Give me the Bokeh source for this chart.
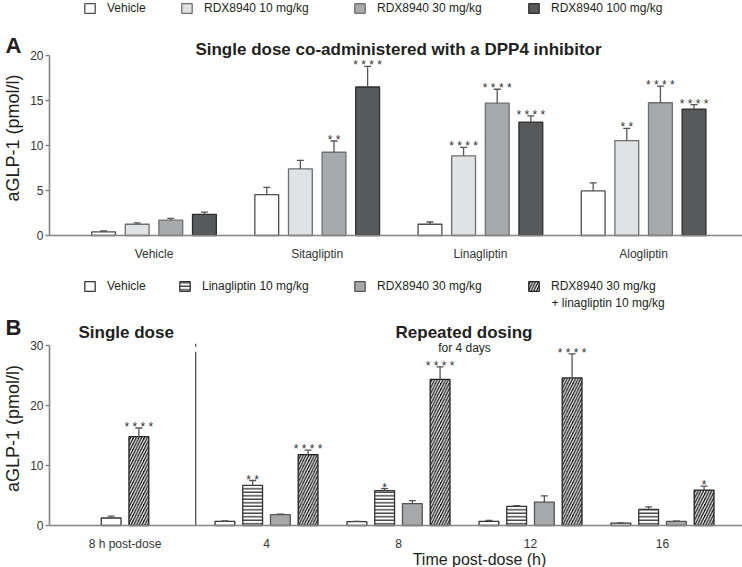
import numpy as np
from bokeh.plotting import figure
from bokeh.models import Legend, LegendItem, Label, FixedTicker, Range1d
from bokeh.layouts import column
from bokeh.embed import file_html
from bokeh.resources import INLINE
from bokeh.core.properties import value

nan = float("nan")

# ---------------- Panel A data ----------------
groups_A = ["Vehicle", "Sitagliptin", "Linagliptin", "Alogliptin"]
series_A = ["Vehicle", "RDX8940 10 mg/kg", "RDX8940 30 mg/kg", "RDX8940 100 mg/kg"]
vehicle_A = [0.4, 4.55, 1.25, 4.95]
vehicle_A_err = [0.1, 0.8, 0.25, 0.9]
vehicle_A_sig = ["", "", "", ""]
rdx10_A = [1.25, 7.4, 8.85, 10.55]
rdx10_A_err = [0.15, 0.95, 0.95, 1.35]
rdx10_A_sig = ["", "", "****", "**"]
rdx30_A = [1.7, 9.25, 14.7, 14.75]
rdx30_A_err = [0.2, 1.25, 1.55, 1.85]
rdx30_A_sig = ["", "**", "****", "****"]
rdx100_A = [2.35, 16.5, 12.6, 14.05]
rdx100_A_err = [0.25, 2.3, 0.7, 0.5]
rdx100_A_sig = ["", "****", "****", "****"]
yticks_A = [0, 5, 10, 15, 20]
title_A = "Single dose co-administered with a DPP4 inhibitor"

# ---------------- Panel B data ----------------
groups_B = ["8 h post-dose", "4", "8", "12", "16"]
series_B = ["Vehicle", "Linagliptin 10 mg/kg", "RDX8940 30 mg/kg",
            "RDX8940 30 mg/kg\n+ linagliptin 10 mg/kg"]
vehicle_B = [1.25, 0.7, 0.65, 0.7, 0.4]
vehicle_B_err = [0.3, 0.05, 0.05, 0.15, 0.05]
vehicle_B_sig = ["", "", "", "", ""]
lina_B = [nan, 6.7, 5.8, 3.2, 2.7]
lina_B_err = [nan, 0.8, 0.35, 0.1, 0.4]
lina_B_sig = ["", "**", "*", "", ""]
rdx30_B = [nan, 1.8, 3.65, 3.9, 0.7]
rdx30_B_err = [nan, 0.1, 0.5, 1.05, 0.05]
rdx30_B_sig = ["", "", "", "", ""]
combo_B = [14.8, 11.8, 24.35, 24.6, 5.9]
combo_B_err = [1.45, 0.75, 2.1, 4.0, 0.65]
combo_B_sig = ["****", "****", "****", "****", "*"]
yticks_B = [0, 10, 20, 30]
ylabel = "aGLP-1 (pmol/l)"
xlabel_B = "Time post-dose (h)"
single_title = "Single dose"
repeat_title = "Repeated dosing"
repeat_sub = "for 4 days"

# ---------------- styling / layout (page pixel geometry) ----------------
FONT = "Liberation Sans"
TXT = "#231f20"
AXC = "#858585"
ERR = "#555555"
W = 742
PAGE_L, PAGE_R = 0, 742
AXIS_X = 49                  # page x of the y axes
PX_A, PX_B = 163.2, 132.0    # px per group
CENTER_A0, CENTER_B0 = 153.5, 124.5
A_TOP, A_BOT = 55, 235       # page y of y=20 / y=0 (panel A)
B_TOP, B_BOT = 345, 525      # page y of y=30 / y=0 (panel B)
FIG_A = (0, 262)
FIG_B = (262, 567)
STEP_A, BAR_A = 0.206, 0.146
STEP_B, BAR_B = 0.21, 0.15
GAP_B = 0.072
LEG_X_A = [83, 180, 353, 527]    # page x of legend swatches
LEG_X_B = [83, 178, 353, 527]
LEG_FONT = "12px"

def xa(px): return (px - CENTER_A0) / PX_A
def ya(py): return (A_BOT - py) / ((A_BOT - A_TOP) / 20.0)
def xb(px): return (px - CENTER_B0) / PX_B
def yb(py): return (B_BOT - py) / ((B_BOT - B_TOP) / 30.0)


def new_fig(fx, fy, fig_rng):
    p = figure(width=W, height=fig_rng[1] - fig_rng[0],
               x_range=Range1d(fx(PAGE_L), fx(PAGE_R)),
               y_range=Range1d(fy(fig_rng[1]), fy(fig_rng[0])),
               output_backend="svg", toolbar_location=None, title=None,
               min_border=0, min_border_left=0, min_border_right=0,
               min_border_top=0, min_border_bottom=0)
    p.grid.visible = False
    p.outline_line_color = None
    return p


def style_axes(p, fx, yticks, ymax):
    for ax in (p.xaxis[0], p.yaxis[0]):
        ax.axis_line_color = AXC
        ax.axis_line_width = 1.6
        ax.major_tick_line_color = AXC
        ax.major_tick_line_width = 1.6
        ax.minor_tick_line_color = None
        ax.major_label_text_font = FONT
        ax.major_label_text_font_size = "12px"
        ax.major_label_text_color = "#333333"
    p.xaxis.fixed_location = 0
    p.xaxis.bounds = (fx(AXIS_X), fx(PAGE_R))
    p.xaxis.major_tick_line_color = None
    p.xaxis.major_label_standoff = 5
    p.yaxis.fixed_location = fx(AXIS_X)
    p.yaxis.bounds = (0, ymax)
    p.yaxis.ticker = FixedTicker(ticks=yticks)
    p.yaxis.major_tick_out = 4
    p.yaxis.major_tick_in = 0
    p.yaxis.major_label_standoff = 2


def draw_bars(p, xs, tops, errs, sigs, style, bar_w):
    xs = np.asarray(xs, float)
    tops = np.asarray(tops, float)
    errs = np.asarray(errs, float)
    m = ~np.isnan(tops)
    r = p.vbar(x=xs[m], top=tops[m], bottom=0, width=bar_w, line_width=1.3, **style)
    hi = tops[m] + errs[m]
    p.segment(x0=xs[m], y0=tops[m], x1=xs[m], y1=hi, line_color=ERR, line_width=1.3)
    p.scatter(x=xs[m], y=hi, marker="dash", size=7, line_color=ERR, line_width=1.3)
    sig = [" ".join(s) for s, k in zip(sigs, m) if k]
    keep = [i for i, s in enumerate(sig) if s]
    if keep:
        p.text(x=xs[m][keep], y=hi[keep], text=[sig[i] for i in keep],
               text_align="center", text_baseline="alphabetic",
               text_font=value(FONT), text_font_size="12px", text_color="#333333",
               y_offset=-1)
    return r


def add_label(p, x, y, text, size, bold=False, align="left", baseline="alphabetic", angle=0.0, color=TXT):
    p.add_layout(Label(x=x, y=y, text=text, text_font=FONT, text_font_size=size,
                       text_font_style="bold" if bold else "normal", text_align=align,
                       text_baseline=baseline, angle=angle, text_color=color))


def make_legend(p, names, renderers, xs_page, legend_bottom_page, fig_bottom_page):
    # one single-item legend per entry, so every swatch sits where the reference has it
    for n, r, x in zip(names, renderers, xs_page):
        leg = Legend(items=[LegendItem(label=n, renderers=[r])],
                     location=(x - PAGE_L, fig_bottom_page - legend_bottom_page),
                     orientation="horizontal",
                     label_text_font=FONT, label_text_font_size=LEG_FONT, label_text_color=TXT,
                     glyph_width=13, glyph_height=12, label_height=12, label_standoff=11,
                     spacing=0, padding=0, margin=0, border_line_color=None,
                     background_fill_alpha=0)
        p.add_layout(leg)


# ================= Panel A =================
pA = new_fig(xa, ya, FIG_A)
style_axes(pA, xa, yticks_A, 20)
pos_A = np.arange(len(groups_A), dtype=float)
pA.xaxis.ticker = FixedTicker(ticks=list(pos_A))
pA.xaxis.major_label_overrides = {float(v): g for v, g in zip(pos_A, groups_A)}

styles_A = [dict(fill_color="white", line_color="#4d4d4d"),
            dict(fill_color="#e1e2e3", line_color="#6d6e70"),
            dict(fill_color="#a8a9ab", line_color="#6d6e70"),
            dict(fill_color="#58595b", line_color="#2e2e2e")]
data_A = [(vehicle_A, vehicle_A_err, vehicle_A_sig), (rdx10_A, rdx10_A_err, rdx10_A_sig),
          (rdx30_A, rdx30_A_err, rdx30_A_sig), (rdx100_A, rdx100_A_err, rdx100_A_sig)]
rend_A = []
for j, (vals, errs, sigs) in enumerate(data_A):
    xs = pos_A + (j - 1.5) * STEP_A
    rend_A.append(draw_bars(pA, xs, vals, errs, sigs, styles_A[j], BAR_A))

make_legend(pA, series_A, rend_A, LEG_X_A, 15, FIG_A[1])
add_label(pA, xa(5), ya(45), "A", "22px", bold=True)
add_label(pA, xa(398), ya(49), title_A, "17px", bold=True, align="center")
add_label(pA, xa(12), ya(137.5), ylabel, "18px", align="center", baseline="middle", angle=np.pi / 2)

# ================= Panel B =================
pB = new_fig(xb, yb, FIG_B)
style_axes(pB, xb, yticks_B, 30)
idx_B = np.arange(len(groups_B))
pos_B = idx_B + np.where(idx_B > 0, GAP_B, 0.0)
pB.xaxis.ticker = FixedTicker(ticks=[float(v) for v in pos_B])
pB.xaxis.major_label_overrides = {float(v): g for v, g in zip(pos_B, groups_B)}

styles_B = [dict(fill_color="white", line_color="#333333"),
            dict(fill_color="white", line_color="#333333", hatch_pattern="horizontal_line",
                 hatch_color="#1e1e1e", hatch_scale=3.5, hatch_weight=1.2),
            dict(fill_color="#a7a8aa", line_color="#555555"),
            dict(fill_color="#111111", line_color="#222222", hatch_pattern="right_diagonal_line",
                 hatch_color="white", hatch_scale=5.5, hatch_weight=1.2)]
data_B = [(vehicle_B, vehicle_B_err, vehicle_B_sig), (lina_B, lina_B_err, lina_B_sig),
          (rdx30_B, rdx30_B_err, rdx30_B_sig), (combo_B, combo_B_err, combo_B_sig)]
xs_B = np.full((len(data_B), len(groups_B)), np.nan)
for g in range(len(groups_B)):
    present = [j for j in range(len(data_B)) if not np.isnan(data_B[j][0][g])]
    n = len(present)
    for k, j in enumerate(present):
        xs_B[j, g] = pos_B[g] + (k - (n - 1) / 2) * STEP_B
rend_B = []
for j, (vals, errs, sigs) in enumerate(data_B):
    rend_B.append(draw_bars(pB, xs_B[j], vals, errs, sigs, styles_B[j], BAR_B))

# separator between single dose and repeated dosing
sep_x = (pos_B[0] + pos_B[1]) / 2
pB.segment(x0=[sep_x], y0=[30.3], x1=[sep_x], y1=[0], line_color="#333333",
           line_width=1.1, line_dash="3 5 300 5")

legend_names_B = [s.split("\n")[0] for s in series_B]
make_legend(pB, legend_names_B, rend_B, LEG_X_B, 293, FIG_B[1])
for extra in series_B[3].split("\n")[1:]:
    add_label(pB, xb(LEG_X_B[3] + 13 + 11), yb(302), extra, LEG_FONT)
add_label(pB, xb(5), yb(327), "B", "22px", bold=True)
add_label(pB, xb(78), yb(332), single_title, "17px", bold=True)
add_label(pB, xb(463.5), yb(332), repeat_title, "17px", bold=True, align="center")
add_label(pB, xb(464), yb(347), repeat_sub, "12px", align="center")
add_label(pB, xb(12), yb(428), ylabel, "18px", align="center", baseline="middle", angle=np.pi / 2)
add_label(pB, xb(479), yb(559), xlabel_B, "16px", align="center")

layout = column(pA, pB)
open("out.html", "w").write(file_html(layout, INLINE))
